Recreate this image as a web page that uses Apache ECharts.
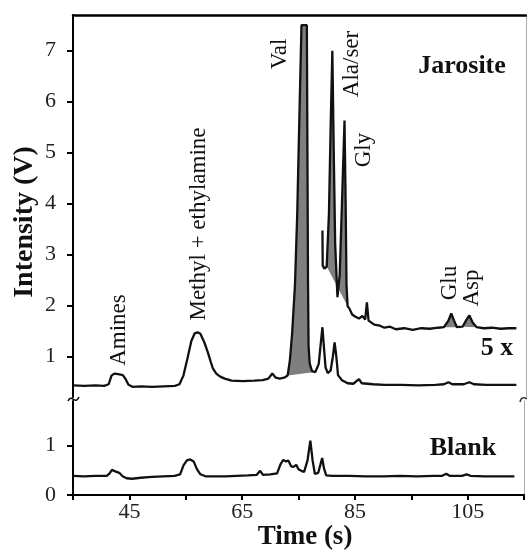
<!DOCTYPE html>
<html>
<head>
<meta charset="utf-8">
<script src="https://cdn.jsdelivr.net/npm/echarts@6/dist/echarts.min.js"></script>
<style>
  html, body { margin: 0; padding: 0; background: #fff; }
  #chart { width: 527px; height: 552px; }
</style>
</head>
<body>
<div id="chart"></div>
<script>
// time (s), intensity (V)
const jarosite = [
  [35, 0.43], [37, 0.42], [39, 0.43], [40.5, 0.42], [41.3, 0.45], [41.8, 0.62], [42.3, 0.66],
  [43, 0.65], [43.8, 0.63], [44.3, 0.55], [44.8, 0.44], [45.5, 0.40], [47, 0.41], [49, 0.40],
  [51, 0.41], [53, 0.42], [53.8, 0.45], [54.5, 0.62], [55.2, 0.95], [55.9, 1.30], [56.5, 1.45],
  [57, 1.47], [57.5, 1.44], [58.2, 1.27], [58.8, 1.08], [59.3, 0.90], [59.7, 0.76], [60.3, 0.66],
  [61, 0.60], [61.8, 0.56], [63, 0.52], [65, 0.51], [67, 0.52], [68.5, 0.53], [69.5, 0.56],
  [70.2, 0.66], [70.8, 0.58], [71.5, 0.56], [72.3, 0.58], [72.9, 0.62], [73.3, 0.92], [73.7, 1.45],
  [74.2, 2.4], [74.6, 3.8], [75.0, 5.8], [75.35, 7.5], [76.3, 7.5], [76.4, 5.0], [76.5, 2.5],
  [76.6, 1.2], [76.8, 0.86], [77.2, 0.71], [77.8, 0.69], [78.4, 0.85], [78.8, 1.3], [79.05, 1.57],
  [79.3, 1.2], [79.6, 0.78], [80.0, 0.67], [80.5, 0.72], [80.9, 1.0], [81.2, 1.27], [81.5, 1.0],
  [81.8, 0.63], [82.5, 0.53], [83.5, 0.47], [84.5, 0.46], [85.5, 0.55], [86, 0.47], [88, 0.45],
  [90, 0.44], [93, 0.44], [96, 0.43], [99, 0.44], [100.5, 0.45], [101.3, 0.49], [102, 0.45],
  [104, 0.45], [105, 0.49], [105.8, 0.45], [108, 0.44], [111, 0.44], [113.3, 0.44]
];

// same run, 5x gain (starts after the Val peak)
const jarosite5x = [
  [79.05, 3.47], [79.1, 2.78], [79.4, 2.72], [79.8, 2.76], [80.2, 3.8], [80.5, 5.5], [80.8, 7.0],
  [81.05, 5.0], [81.3, 3.2], [81.7, 2.16], [82.1, 2.6], [82.5, 4.0], [82.95, 5.63], [83.15, 4.0],
  [83.3, 2.4], [83.5, 1.98], [83.8, 1.94], [84.3, 1.82], [84.8, 1.78], [85.5, 1.74], [86.1, 1.79],
  [86.6, 1.72], [86.9, 2.06], [87.2, 1.70], [88.2, 1.62], [89.2, 1.60], [90, 1.56], [91, 1.58],
  [92, 1.53], [93.5, 1.55], [95, 1.52], [96.5, 1.55], [98, 1.54], [99.5, 1.56], [100.5, 1.57],
  [101.3, 1.70], [101.8, 1.84], [102.3, 1.70], [102.8, 1.57], [103.8, 1.58], [104.5, 1.72],
  [105, 1.80], [105.6, 1.66], [106.3, 1.57], [107.5, 1.55], [109, 1.56], [110.5, 1.54],
  [112, 1.55], [113.3, 1.55]
];

const blank = [
  [35, 0.39], [37, 0.38], [39, 0.39], [41, 0.39], [41.5, 0.44], [41.9, 0.51], [42.5, 0.48],
  [43.2, 0.45], [43.8, 0.38], [44.5, 0.34], [45.5, 0.33], [47, 0.35], [49, 0.37], [51, 0.38],
  [53, 0.39], [54, 0.42], [54.6, 0.60], [55.2, 0.70], [55.8, 0.72], [56.4, 0.68], [57, 0.52],
  [57.6, 0.42], [58.5, 0.38], [60, 0.38], [62, 0.38], [64, 0.39], [66, 0.40], [67.6, 0.41],
  [68.2, 0.49], [68.7, 0.41], [70, 0.42], [71.2, 0.44], [71.8, 0.62], [72.3, 0.71], [72.8, 0.68],
  [73.2, 0.70], [73.7, 0.58], [74.1, 0.57], [74.6, 0.61], [75.0, 0.52], [75.5, 0.49], [76.0, 0.47],
  [76.6, 0.70], [77.1, 1.10], [77.5, 0.70], [77.9, 0.43], [78.5, 0.45], [78.9, 0.62], [79.2, 0.75],
  [79.5, 0.55], [79.9, 0.40], [81, 0.39], [84, 0.39], [87, 0.38], [90, 0.38], [93, 0.39],
  [96, 0.38], [99, 0.39], [100.5, 0.39], [101.2, 0.43], [101.8, 0.39], [104, 0.39], [104.8, 0.42],
  [105.5, 0.39], [108, 0.38], [111, 0.38], [113.3, 0.38]
];

// shaded peak windows [trace, from, to]
const shaded = [
  ['1x', 72.9, 77.8],   // Val
  ['5x', 79.8, 83.5],   // Ala/ser + Gly
  ['5x', 100.5, 102.8], // Glu
  ['5x', 103.8, 106.3]  // Asp
];

const xTickLabels = [45, 65, 85, 105];
const upperTicks = [1, 2, 3, 4, 5, 6, 7];
const lowerTicks = [0, 1];

const serif = "'Liberation Serif', 'Times New Roman', serif";
const ink = '#111';

const traces = { '1x': jarosite, '5x': jarosite5x };

function peakFill(tag, from, to) {
  const pts = traces[tag].filter(p => p[0] >= from && p[0] <= to);
  return {
    type: 'custom',
    xAxisIndex: 0,
    yAxisIndex: 0,
    z: 1,
    silent: true,
    data: [0],
    renderItem: function (params, api) {
      return {
        type: 'polygon',
        shape: { points: pts.map(p => api.coord(p)) },
        style: { fill: '#7f7f7f', stroke: 'none' }
      };
    }
  };
}

function traceLine(data, xi, yi) {
  return {
    type: 'line',
    xAxisIndex: xi,
    yAxisIndex: yi,
    data: data,
    showSymbol: false,
    z: 3,
    lineStyle: { color: ink, width: 2.3 }
  };
}

function rotText(text, x, y, size, bold) {
  return {
    type: 'text', x: x, y: y, rotation: Math.PI / 2, z: 10,
    style: {
      text: text, fill: ink,
      font: (bold ? 'bold ' : '') + size + 'px ' + serif,
      textAlign: 'center', textVerticalAlign: 'middle',
      align: 'center', verticalAlign: 'middle'
    }
  };
}

function flatText(text, x, y, size) {
  return {
    type: 'text', x: x, y: y, z: 10,
    style: {
      text: text, fill: ink,
      font: 'bold ' + size + 'px ' + serif,
      textAlign: 'center', textVerticalAlign: 'middle',
      align: 'center', verticalAlign: 'middle'
    }
  };
}

const chart = echarts.init(document.getElementById('chart'));

const hidden = { show: false };

chart.setOption({
  animation: false,
  backgroundColor: '#fff',
  grid: [
    { left: 73, right: 1, top: 15, height: 382 },
    { left: 73, right: 1, top: 401, height: 97 }
  ],
  xAxis: [
    {
      gridIndex: 0, type: 'value', min: 35, max: 115, position: 'top',
      axisLine: { show: true, lineStyle: { color: '#000', width: 2.5 } },
      axisTick: hidden, axisLabel: hidden, splitLine: hidden
    },
    {
      gridIndex: 1, type: 'value', min: 35, max: 115, interval: 10,
      axisLine: { show: true, onZero: false, lineStyle: { color: '#000', width: 2 } },
      axisTick: { show: true, length: 5, lineStyle: { color: '#000', width: 2 } },
      axisLabel: {
        color: '#222', fontFamily: serif, fontSize: 22, margin: 6,
        formatter: v => (xTickLabels.indexOf(v) >= 0 ? String(v) : '')
      },
      splitLine: hidden,
      name: 'Time (s)', nameLocation: 'middle', nameGap: 13,
      nameTextStyle: { color: ink, fontFamily: serif, fontSize: 27, fontWeight: 'bold', padding: [0, 0, 0, 13] }
    }
  ],
  yAxis: [
    {
      gridIndex: 0, type: 'value', min: 0.2, max: 7.7,
      axisLine: { show: true, onZero: false, lineStyle: { color: '#000', width: 2 } },
      axisTick: { show: true, customValues: upperTicks, length: 6, lineStyle: { color: '#000', width: 2 } },
      axisLabel: { customValues: upperTicks, color: '#222', fontFamily: serif, fontSize: 22, margin: 17 },
      splitLine: hidden
    },
    {
      gridIndex: 1, type: 'value', min: 0, max: 1.9,
      axisLine: { show: true, onZero: false, lineStyle: { color: '#000', width: 2 } },
      axisTick: { show: true, customValues: lowerTicks, length: 6, lineStyle: { color: '#000', width: 2 } },
      axisLabel: { customValues: lowerTicks, color: '#222', fontFamily: serif, fontSize: 22, margin: 17 },
      splitLine: hidden
    },
    {
      gridIndex: 0, type: 'value', min: 0.2, max: 7.7, position: 'right',
      axisLine: { show: true, lineStyle: { color: '#aaa', width: 1 } },
      axisTick: hidden, axisLabel: hidden, splitLine: hidden
    },
    {
      gridIndex: 1, type: 'value', min: 0, max: 1.9, position: 'right',
      axisLine: { show: true, lineStyle: { color: '#aaa', width: 1 } },
      axisTick: hidden, axisLabel: hidden, splitLine: hidden
    }
  ],
  series: shaded.map(s => peakFill(s[0], s[1], s[2])).concat([
    traceLine(jarosite, 0, 0),
    traceLine(jarosite5x, 0, 0),
    traceLine(blank, 1, 1)
  ]),
  graphic: [
    rotText('Intensity (V)', 25, 222, 28, true),
    rotText('Amines', 119, 330, 23, false),
    rotText('Methyl + ethylamine', 199, 224, 23, false),
    rotText('Val', 280, 54, 23, false),
    rotText('Ala/ser', 352, 64, 23, false),
    rotText('Gly', 364, 150, 23, false),
    rotText('Glu', 450, 283, 23, false),
    rotText('Asp', 472, 288, 23, false),
    flatText('Jarosite', 462, 66, 26),
    flatText('5 x', 497, 348, 26),
    flatText('Blank', 463, 448, 26),
    // axis break marks
    {
      type: 'bezierCurve', z: 10,
      shape: { x1: 68, y1: 401, cpx1: 72, cpy1: 393, cpx2: 75, cpy2: 406, x2: 79, y2: 397 },
      style: { stroke: '#000', lineWidth: 1.5, fill: null }
    },
    {
      type: 'bezierCurve', z: 10,
      shape: { x1: 520, y1: 402, cpx1: 521, cpy1: 397, cpx2: 524, cpy2: 397, x2: 527, y2: 399 },
      style: { stroke: '#333', lineWidth: 1.5, fill: null }
    }
  ]
});
</script>
</body>
</html>
